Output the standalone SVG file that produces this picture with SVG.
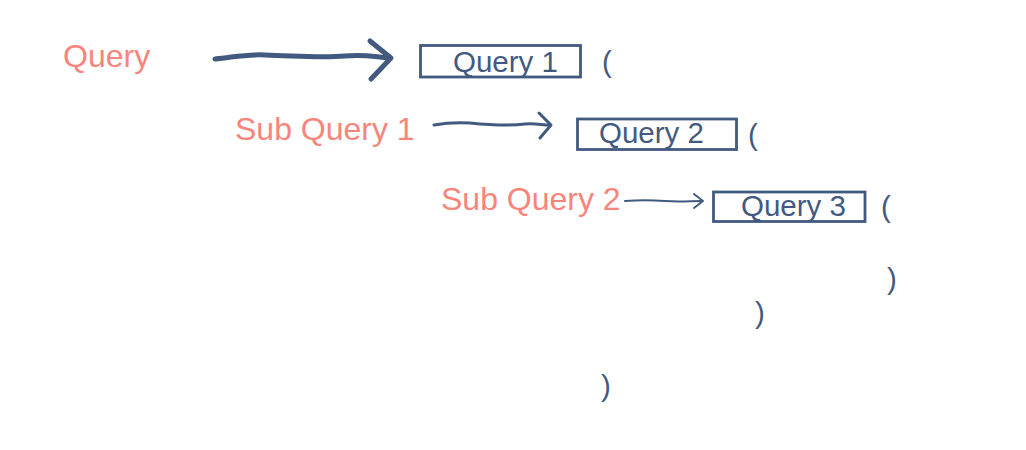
<svg xmlns="http://www.w3.org/2000/svg" width="1026" height="450" viewBox="0 0 1026 450">
<style>
.lbl{font-family:"Liberation Sans",Arial,sans-serif;font-size:32px;fill:#F7857B}
.txt{font-family:"Liberation Sans",Arial,sans-serif;font-size:29.5px;fill:#435A80}
.box{fill:none;stroke:#435A80;stroke-width:2.8}
.con{fill:none;stroke:#435A80;stroke-linecap:round;stroke-linejoin:round}
</style>
<rect width="1026" height="450" fill="#fff"/>
<g id="label-query"><text class="lbl" x="63" y="67">Query</text></g>
<g id="label-sub1"><text class="lbl" x="235" y="140">Sub Query 1</text></g>
<g id="label-sub2"><text class="lbl" x="441" y="210">Sub Query 2</text></g>
<g id="node-query1">
<rect class="box" x="420.5" y="45.5" width="160" height="31.5"/>
<text class="txt" x="453" y="72">Query 1</text>
</g>
<g id="node-query2">
<rect class="box" x="577.5" y="119" width="159" height="30.5"/>
<text class="txt" x="599" y="143">Query 2</text>
</g>
<g id="node-query3">
<rect class="box" x="713.5" y="192" width="151.5" height="29.5"/>
<text class="txt" x="741" y="216">Query 3</text>
</g>
<g id="parens">
<text class="txt" x="602" y="72">(</text>
<text class="txt" x="748" y="145">(</text>
<text class="txt" x="881" y="217">(</text>
<text class="txt" x="887" y="289">)</text>
<text class="txt" x="755" y="323">)</text>
<text class="txt" x="601" y="396">)</text>
</g>
<g id="connectors">
<path class="con" stroke-width="5" d="M215,59 C235,57 245,54 265,55 C300,56 320,58 345,56 C365,54 375,57 390,58"/>
<path class="con" stroke-width="5" d="M370,41 L391,58 L371,79"/>
<path class="con" stroke-width="3" d="M434,125 C445,123 455,122 470,123 C490,125 510,126 525,124 C535,123 542,125 550,125"/>
<path class="con" stroke-width="3" d="M539,113 L551,125 L540,138"/>
<path class="con" stroke-width="2" d="M625,201 C640,200 650,200 665,201 C680,202 690,201 702,201"/>
<path class="con" stroke-width="2" d="M694,194 L703,201 L694,208"/>
</g>
</svg>
